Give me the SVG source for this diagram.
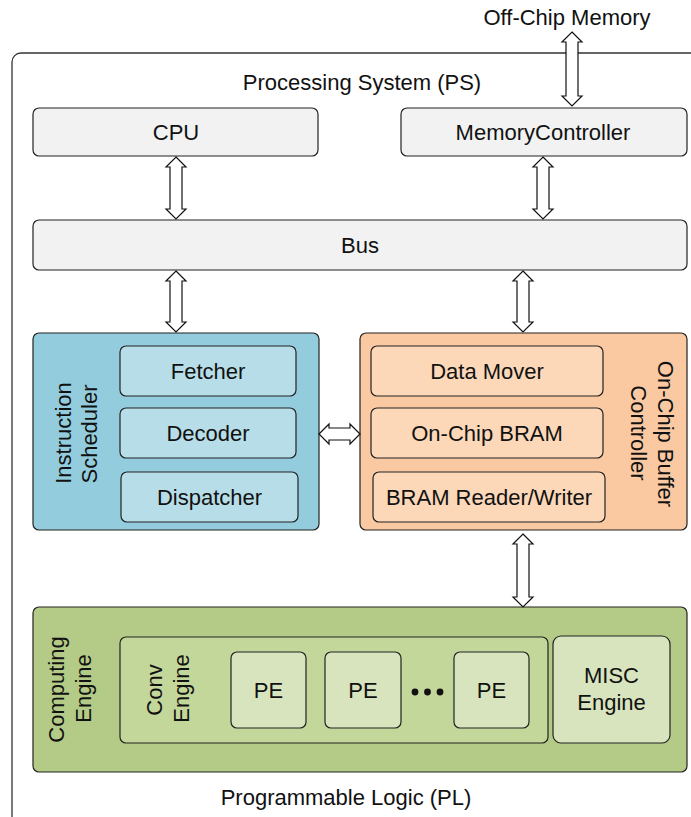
<svg xmlns="http://www.w3.org/2000/svg" width="691" height="817" viewBox="0 0 691 817">
  <style>
    text { font-family: "Liberation Sans", Arial, sans-serif; font-size: 22px; fill: #111; text-anchor: middle; }
    .box { stroke: #222; stroke-width: 1.2; }
    .ps { fill: #f2f2f2; }
    .is { fill: #93cddd; }
    .is-in { fill: #b7dee8; }
    .ocb { fill: #fac9a1; }
    .ocb-in { fill: #fcd8b9; }
    .ce { fill: #b3cb87; }
    .conv { fill: #c4d79b; }
    .pe { fill: #d7e4bd; }
    .frame { fill: none; stroke: #333; stroke-width: 1.3; }
    .arrow { fill: #fff; stroke: #111; stroke-width: 1.2; stroke-linejoin: miter; }
  </style>

  <!-- outer frame: Processing System + Programmable Logic -->
  <g id="frame">
    <rect class="frame" x="12" y="53" width="700" height="780" rx="9"/>
    <text x="362" y="90">Processing System (PS)</text>
    <text x="346" y="805">Programmable Logic (PL)</text>
  </g>

  <g id="offchip">
    <text x="567" y="25">Off-Chip Memory</text>
  </g>

  <g id="cpu">
    <rect class="box ps" x="33" y="108" width="285" height="48" rx="6"/>
    <text x="176" y="140">CPU</text>
  </g>

  <g id="memctrl">
    <rect class="box ps" x="401" y="108" width="286" height="48" rx="6"/>
    <text x="543" y="140">MemoryController</text>
  </g>

  <g id="bus">
    <rect class="box ps" x="33" y="220" width="654" height="50" rx="6"/>
    <text x="360" y="253">Bus</text>
  </g>

  <g id="scheduler">
    <rect class="box is" x="33" y="333" width="286" height="197" rx="6"/>
    <text transform="translate(71,433) rotate(-90)">Instruction</text>
    <text transform="translate(97,434) rotate(-90)">Scheduler</text>
    <g id="fetcher">
      <rect class="box is-in" x="120" y="346" width="176" height="50" rx="6"/>
      <text x="208" y="379">Fetcher</text>
    </g>
    <g id="decoder">
      <rect class="box is-in" x="120" y="408" width="176" height="50" rx="6"/>
      <text x="208" y="441">Decoder</text>
    </g>
    <g id="dispatcher">
      <rect class="box is-in" x="121" y="472" width="177" height="50" rx="6"/>
      <text x="209.5" y="505">Dispatcher</text>
    </g>
  </g>

  <g id="buffer-controller">
    <rect class="box ocb" x="360" y="333" width="327" height="197" rx="6"/>
    <text transform="translate(658,434) rotate(90)">On-Chip Buffer</text>
    <text transform="translate(631,433) rotate(90)">Controller</text>
    <g id="data-mover">
      <rect class="box ocb-in" x="371" y="346" width="232" height="50" rx="6"/>
      <text x="487" y="379">Data Mover</text>
    </g>
    <g id="bram">
      <rect class="box ocb-in" x="371" y="408" width="232" height="50" rx="6"/>
      <text x="487" y="441">On-Chip BRAM</text>
    </g>
    <g id="bram-rw">
      <rect class="box ocb-in" x="373" y="472" width="232" height="50" rx="6"/>
      <text x="489" y="505">BRAM Reader/Writer</text>
    </g>
  </g>

  <g id="computing-engine">
    <rect class="box ce" x="33" y="607" width="654" height="165" rx="6"/>
    <text transform="translate(64,689.5) rotate(-90)">Computing</text>
    <text transform="translate(91,688.5) rotate(-90)">Engine</text>
    <g id="conv-engine">
      <rect class="box conv" x="120" y="637" width="428" height="106" rx="6"/>
      <text transform="translate(162,690) rotate(-90)">Conv</text>
      <text transform="translate(189,688.5) rotate(-90)">Engine</text>
      <g id="pe1">
        <rect class="box pe" x="231" y="652" width="75" height="76" rx="6"/>
        <text x="268.5" y="698">PE</text>
      </g>
      <g id="pe2">
        <rect class="box pe" x="325" y="652" width="76" height="76" rx="6"/>
        <text x="363" y="698">PE</text>
      </g>
      <g id="ellipsis">
        <circle cx="415" cy="692" r="3.4" fill="#111"/>
        <circle cx="427.5" cy="692" r="3.4" fill="#111"/>
        <circle cx="440" cy="692" r="3.4" fill="#111"/>
      </g>
      <g id="pe3">
        <rect class="box pe" x="454" y="652" width="75" height="76" rx="6"/>
        <text x="491.5" y="698">PE</text>
      </g>
    </g>
    <g id="misc-engine">
      <rect class="box pe" x="553" y="636" width="117" height="107" rx="8"/>
      <text x="611.5" y="683">MISC</text>
      <text x="611.5" y="710">Engine</text>
    </g>
  </g>

  <!-- double-headed hollow arrows -->
  <g id="connectors">
    <!-- off-chip memory <-> memory controller -->
    <path class="arrow" d="M572,32 L582,42 L578,42 L578,96 L582,96 L572,106 L562,96 L566,96 L566,42 L562,42 Z"/>
    <!-- CPU <-> bus -->
    <path class="arrow" d="M176,157 L186,167 L182,167 L182,209 L186,209 L176,219 L166,209 L170,209 L170,167 L166,167 Z"/>
    <!-- memory controller <-> bus -->
    <path class="arrow" d="M543,157 L553,167 L549,167 L549,209 L553,209 L543,219 L533,209 L537,209 L537,167 L533,167 Z"/>
    <!-- bus <-> instruction scheduler -->
    <path class="arrow" d="M176,271 L186,281 L182,281 L182,322 L186,322 L176,332 L166,322 L170,322 L170,281 L166,281 Z"/>
    <!-- bus <-> buffer controller -->
    <path class="arrow" d="M523,271 L533,281 L529,281 L529,322 L533,322 L523,332 L513,322 L517,322 L517,281 L513,281 Z"/>
    <!-- scheduler <-> buffer controller -->
    <path class="arrow" d="M319,434 L329,424 L329,428 L350,428 L350,424 L360,434 L350,444 L350,440 L329,440 L329,444 Z"/>
    <!-- buffer controller <-> computing engine -->
    <path class="arrow" d="M523,534 L533,544 L529,544 L529,597 L533,597 L523,607 L513,597 L517,597 L517,544 L513,544 Z"/>
  </g>
</svg>
